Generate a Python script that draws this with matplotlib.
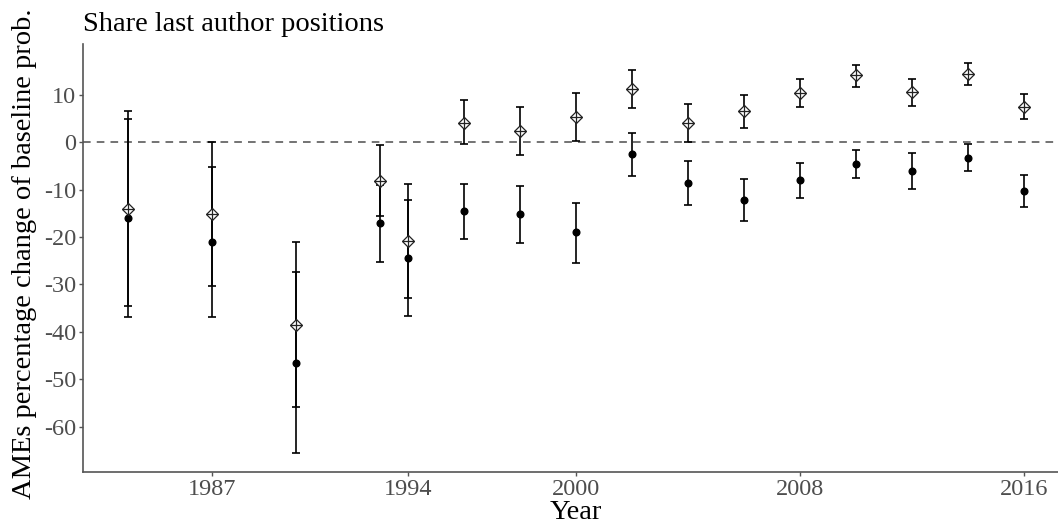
import matplotlib
matplotlib.use("Agg")
import matplotlib.pyplot as plt

years = [1984, 1987, 1990, 1993, 1994, 1996, 1998, 2000, 2002, 2004,
         2006, 2008, 2010, 2012, 2014, 2016]

# diamond series (estimate, lower, upper)
dia = [-14.0, -15.2, -38.5, -8.1, -20.9, 4.2, 2.5, 5.4, 11.3, 4.2,
       6.6, 10.5, 14.2, 10.6, 14.4, 7.5]
dia_lo = [-34.6, -30.4, -55.8, -15.6, -32.9, -0.4, -2.7, 0.3, 7.2, 0.0,
          3.0, 7.5, 11.8, 7.7, 12.2, 4.9]
dia_hi = [6.6, 0.1, -21.1, -0.6, -8.8, 8.9, 7.5, 10.5, 15.3, 8.2,
          10.0, 13.3, 16.4, 13.5, 16.7, 10.3]

# dot series
dot = [-16.0, -21.1, -46.5, -17.1, -24.4, -14.5, -15.2, -19.0, -2.5, -8.6,
       -12.1, -8.0, -4.6, -6.1, -3.3, -10.3]
dot_lo = [-36.9, -36.9, -65.5, -25.2, -36.6, -20.4, -21.3, -25.4, -7.1, -13.2,
          -16.5, -11.7, -7.5, -9.8, -6.1, -13.7]
dot_hi = [4.9, -5.2, -27.4, -9.0, -12.2, -8.8, -9.1, -12.8, 2.1, -4.0,
          -7.8, -4.4, -1.6, -2.3, -0.3, -6.8]

xticks = [1987, 1994, 2000, 2008, 2016]
yticks = [10, 0, -10, -20, -30, -40, -50, -60]

plt.rcParams['font.family'] = 'Liberation Serif'
plt.rcParams['axes.unicode_minus'] = False

fig = plt.figure(figsize=(10.58, 5.26), dpi=100)
ax = fig.add_axes([0.0787, 0.1027, 0.9317, 0.8137])

ax.axhline(0, color='#4d4d4d', lw=1.1, ls=(0, (5, 4)), zorder=1)

err_dot = [[d - l for d, l in zip(dot, dot_lo)], [h - d for d, h in zip(dot, dot_hi)]]
ax.errorbar(years, dot, yerr=err_dot, fmt='o', color='black', ms=4.8,
            elinewidth=1.2, capsize=2.6, capthick=1.2, zorder=2)

err_dia = [[d - l for d, l in zip(dia, dia_lo)], [h - d for d, h in zip(dia, dia_hi)]]
ax.errorbar(years, dia, yerr=err_dia, fmt='none', ecolor='black',
            elinewidth=1.2, capsize=2.6, capthick=1.2, zorder=3)
ax.plot(years, dia, ls='none', marker='D', ms=6.2, mfc='white',
        mec='#222222', mew=0.9, zorder=4)
ax.plot(years, dia, ls='none', marker='+', ms=8.8, mec='#222222', mew=0.9, zorder=5)

ax.set_xlim(1982.4, 2017.6)
ax.set_ylim(-69.6, 20.8)
ax.set_xticks(xticks)
ax.set_yticks(yticks)

for s in ['top', 'right']:
    ax.spines[s].set_visible(False)
for s in ['left', 'bottom']:
    ax.spines[s].set_color('#555555')
    ax.spines[s].set_linewidth(1.2)

ax.tick_params(colors='#555555', length=3, width=1, labelsize=17.5, pad=2)
for lab in ax.get_xticklabels() + ax.get_yticklabels():
    lab.set_color('#4d4d4d')

ax.set_xlabel('Year', fontsize=20.5, labelpad=0)
ax.set_ylabel('AMEs percentage change of baseline prob.', fontsize=20.5)
ax.yaxis.set_label_coords(-0.047, 0.51)
ax.set_title('Share last author positions', fontsize=20.5, loc='left', pad=9)

fig.savefig('out.png', dpi=100)
